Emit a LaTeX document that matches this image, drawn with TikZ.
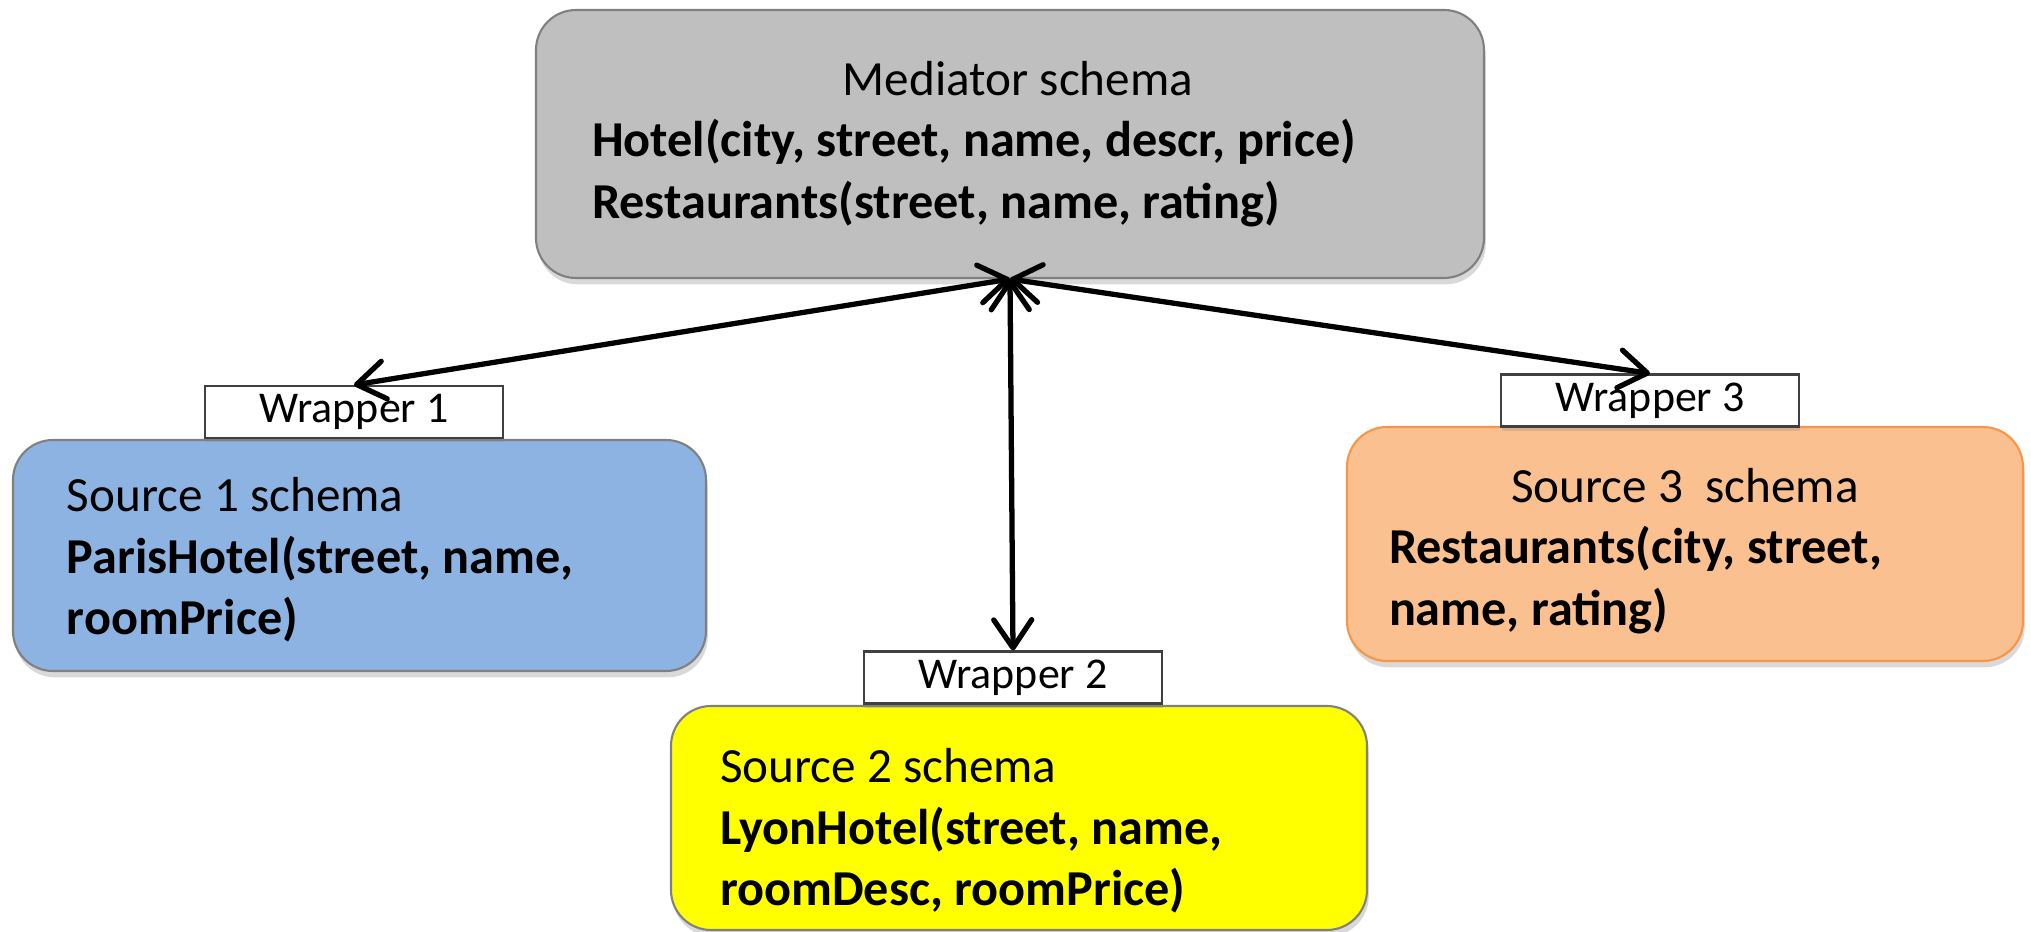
\documentclass[tikz,border=0pt]{standalone}
\usepackage{fontspec}
\setmainfont{Carlito}
\usepackage{color}
\usetikzlibrary{math, arrows.meta, shadows}
\definecolor{medgray}{HTML}{BFBFBF}
\definecolor{srcblue}{HTML}{8DB3E2}
\definecolor{srcyellow}{HTML}{FFFF00}
\definecolor{srcpeach}{HTML}{FAC090}
\definecolor{peachline}{HTML}{F79646}
\newcommand{\relline}[1]{{\fontsize{14.3}{17.5}\selectfont\bfseries #1}}

\begin{document}
\begin{tikzpicture}[
    schema/.style={draw=black!50, line width=0.6pt, rounded corners=0.4cm, align=flush left,
      inner ysep=0.05cm, font=\fontsize{14}{17.5}\selectfont,
      drop shadow={opacity=0.3, shadow xshift=0.5pt, shadow yshift=-1.8pt}},
    wrapbox/.style={draw=black!75, line width=0.6pt, fill=white, inner sep=0pt,
      minimum width=2.98cm, minimum height=0.52cm, font=\fontsize{12.5}{15}\selectfont,
      drop shadow={opacity=0.25, shadow xshift=0.4pt, shadow yshift=-1.2pt}},
    link/.style={{Straight Barb[length=2.8mm,width=3.8mm,round]}-{Straight Barb[length=2.8mm,width=3.8mm,round]},
      line width=1.5pt, line cap=round}
  ]
  \tikzmath{\w = 20.31; \h = 9.32;}
  \useasboundingbox (0,0) rectangle (\w,\h);
  \node[schema, fill=medgray, text width=8.36cm, inner xsep=0.56cm, minimum height=2.68cm] (mediator) at (10.10,7.88)
    {{\centering\hspace*{0.16cm}Mediator schema\par}\relline{Hotel(city, street, name, descr, price)}\\\relline{Restaurants(street, name, rating)}};
  \node[schema, fill=srcblue, text width=5.85cm, inner xsep=0.54cm, minimum height=2.31cm] (source1) at (3.595,3.765)
    {\rule{0pt}{0.43cm}Source 1 schema\\\relline{ParisHotel(street, name,}\\\relline{roomPrice)}};
  \node[schema, fill=srcyellow, text width=5.98cm, inner xsep=0.49cm, minimum height=2.24cm] (source2) at (10.19,1.14)
    {\rule{0pt}{0.6cm}Source 2 schema\\\relline{LyonHotel(street, name,}\\\relline{roomDesc, roomPrice)}};
  \node[schema, draw=peachline, fill=srcpeach, text width=5.92cm, inner xsep=0.42cm, minimum height=2.34cm] (source3) at (16.85,3.88)
    {{\centering\rule{0pt}{0.48cm}Source 3\ \ schema\par}\relline{Restaurants(city, street,}\\\relline{name, rating)}};
  \node[wrapbox] (wrap1) at (3.54,5.20) {Wrapper 1};
  \node[wrapbox] (wrap2) at (10.13,2.545) {Wrapper 2};
  \node[wrapbox] (wrap3) at (16.50,5.315) {Wrapper 3};
  \draw[link] (mediator.south) -- (wrap1.north);
  \draw[link] (mediator.south) -- (wrap2.north);
  \draw[link] (mediator.south) -- (wrap3.north);
\end{tikzpicture}
\end{document}
